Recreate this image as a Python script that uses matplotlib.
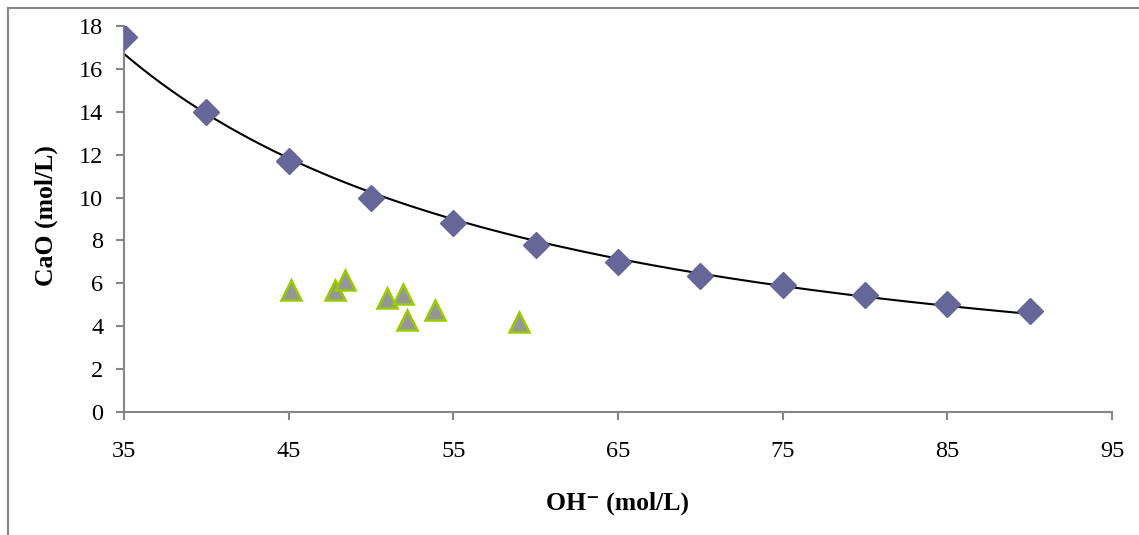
import numpy as np
import matplotlib
matplotlib.use("Agg")
import matplotlib.pyplot as plt
from matplotlib.lines import Line2D

# Data
oh_diamond = [35, 40, 45, 50, 55, 60, 65, 70, 75, 80, 85, 90]
cao_diamond = [17.5, 14.0, 11.7, 10.0, 8.8, 7.8, 7.0, 6.35, 5.9, 5.45, 5.05, 4.7]

oh_triangle = [45.15, 47.8, 48.45, 51.0, 51.95, 52.2, 53.9, 59.0]
cao_triangle = [5.70, 5.70, 6.17, 5.33, 5.52, 4.31, 4.77, 4.20]

x_ticks = [35, 45, 55, 65, 75, 85, 95]
y_ticks = [0, 2, 4, 6, 8, 10, 12, 14, 16, 18]

plt.rcParams['font.family'] = ['Liberation Serif', 'DejaVu Serif']

fig = plt.figure(figsize=(11.39, 5.35), dpi=100)
ax = fig.add_axes([124/1139, 1-412/535, (1112-124)/1139, (412-26)/535])

# Power-law trendline fitted to the diamond series
lx = np.log(oh_diamond)
ly = np.log(cao_diamond)
b, a = np.polyfit(lx, ly, 1)
xs = np.linspace(min(oh_diamond), max(oh_diamond), 200)
ax.plot(xs, np.exp(a) * xs ** b, color='black', lw=1.5, zorder=2)

ax.plot(oh_diamond, cao_diamond, linestyle='none', marker='D', ms=13,
        color='#666699', mec='#666699', zorder=3)
ax.plot(oh_triangle, cao_triangle, linestyle='none', marker='^', ms=15,
        mfc='#969696', mec='#99CC00', mew=1.8, zorder=3)

ax.set_xlim(35, 95)
ax.set_ylim(0, 18)
ax.set_xticks(x_ticks)
ax.set_yticks(y_ticks)
for s in ['top', 'right']:
    ax.spines[s].set_visible(False)
for s in ['left', 'bottom']:
    ax.spines[s].set_color('#868686')
    ax.spines[s].set_linewidth(1.5)
ax.tick_params(axis='both', direction='out', length=6, width=1.5,
               color='#868686', labelsize=17.5, pad=9)
ax.tick_params(axis='x', pad=15)
fig.text(46/1139, 1-216/535, 'CaO (mol/L)', fontsize=18.5, fontweight='bold',
         rotation=90, ha='center', va='center')
fig.text(618/1139, 1-503/535, 'OH\u207b (mol/L)', fontsize=18.5,
         fontweight='bold', ha='center', va='center')

# outer chart frame (partially visible)
fig.add_artist(Line2D([8/1139, 8/1139], [0, 1-8/535], transform=fig.transFigure,
                      color='#868686', lw=1.5))
fig.add_artist(Line2D([8/1139, 1], [1-8/535, 1-8/535], transform=fig.transFigure,
                      color='#868686', lw=1.5))

fig.savefig('out.png', dpi=100)
